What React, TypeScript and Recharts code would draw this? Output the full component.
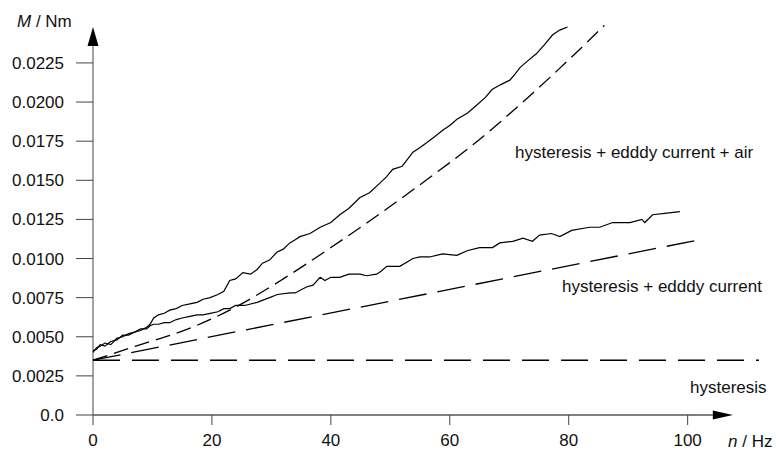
import { LineChart, Line, XAxis, YAxis, ReferenceLine } from 'recharts';

// measured torque, upper trace (hysteresis + eddy current + air)
const upperN = [0, 0.6, 1.2, 2, 3, 4, 5, 6, 7, 8, 9, 9.6, 10.2, 11, 12, 12.9, 14, 15, 16.3, 17.5, 18.5, 19.7, 21, 22, 23, 24, 25.2, 26.5, 27.6, 28.5, 29.7, 30.9, 32, 33.1, 34, 34.8, 36.5, 38.2, 40, 41.5, 43, 44.9, 46.5, 48.2, 49.3, 50.4, 52, 53.8, 55, 56.1, 57.5, 58.8, 60, 61.2, 63, 64.5, 66, 67.1, 68.5, 70.1, 71, 71.8, 73, 74.6, 76, 77.3, 78.5, 79.8];
const upperM = [0.004, 0.0043, 0.0044, 0.0046, 0.0045, 0.0049, 0.005, 0.0052, 0.0053, 0.0054, 0.0056, 0.0058, 0.0062, 0.0064, 0.0065, 0.0067, 0.0068, 0.007, 0.0071, 0.0072, 0.0074, 0.0075, 0.0077, 0.0079, 0.0086, 0.0087, 0.0091, 0.009, 0.0093, 0.0097, 0.0099, 0.0104, 0.0106, 0.011, 0.0112, 0.0114, 0.0116, 0.012, 0.0123, 0.0128, 0.0132, 0.0139, 0.0142, 0.0148, 0.0152, 0.0157, 0.0159, 0.0168, 0.0171, 0.0174, 0.0178, 0.0182, 0.0185, 0.0189, 0.0193, 0.0198, 0.0203, 0.0208, 0.0211, 0.0214, 0.0218, 0.0222, 0.0226, 0.0231, 0.0237, 0.0243, 0.0246, 0.0248];

// measured torque, lower trace (hysteresis + eddy current)
const lowerN = [0, 0.6, 1.2, 2, 3, 4, 5, 6, 7, 8, 9, 9.6, 10.2, 11, 12, 12.9, 14, 15, 16.3, 17.5, 18.5, 19.7, 21, 22, 23, 24, 25.5, 27.6, 29.7, 31, 33.1, 34, 35, 36, 37, 38.2, 39, 40, 41.5, 43, 44.9, 46, 47.7, 48.5, 49.4, 51.6, 53.8, 55, 56.6, 58.8, 61.2, 62.9, 65, 67.2, 68.4, 70.6, 72.3, 73.9, 75.1, 77.1, 78.5, 80.5, 83.5, 85.2, 87.4, 90.3, 92.3, 92.8, 94.1, 96.5, 98.7];
const lowerM = [0.0041, 0.0042, 0.0045, 0.0044, 0.0047, 0.0048, 0.0051, 0.0051, 0.0053, 0.0055, 0.0055, 0.0057, 0.0058, 0.0058, 0.0059, 0.0059, 0.0061, 0.0062, 0.0063, 0.0064, 0.0064, 0.0065, 0.0066, 0.0068, 0.0068, 0.007, 0.007, 0.0072, 0.0075, 0.0077, 0.0078, 0.0078, 0.008, 0.0082, 0.0083, 0.0088, 0.0086, 0.0088, 0.0088, 0.009, 0.009, 0.0089, 0.009, 0.0092, 0.0095, 0.0095, 0.01, 0.0101, 0.0101, 0.0103, 0.0102, 0.0105, 0.0107, 0.0107, 0.011, 0.0111, 0.0113, 0.0111, 0.0115, 0.0116, 0.0114, 0.0118, 0.012, 0.012, 0.0123, 0.0123, 0.0125, 0.0123, 0.0128, 0.0129, 0.013];

// model curves
const airN = [0, 8, 16, 24, 32, 40, 48, 56, 64, 72, 80, 86];
const airM = [0.0035, 0.0045, 0.0055, 0.0069, 0.0087, 0.0107, 0.0128, 0.015, 0.0173, 0.0199, 0.0227, 0.0249];
const eddyN = [0, 102];
const eddyM = [0.0035, 0.0112];
const hystN = [0, 112];
const hystM = [0.0035, 0.0035];

const xTicks = [0, 20, 40, 60, 80, 100];
const yTicks = [0, 0.0025, 0.005, 0.0075, 0.01, 0.0125, 0.015, 0.0175, 0.02, 0.0225];

const pts = (ns: number[], ms: number[]) => ns.map((n, i) => ({ n, m: ms[i] }));

const FONT = '"Liberation Sans", Arial, sans-serif';

function arrowShape(head: number, half: number) {
  return (p: any) => {
    const { x1, y1, x2, y2 } = p;
    const len = Math.hypot(x2 - x1, y2 - y1);
    const ux = (x2 - x1) / len;
    const uy = (y2 - y1) / len;
    const bx = x2 - ux * head;
    const by = y2 - uy * head;
    const tri = `${x2},${y2} ${bx - uy * half},${by + ux * half} ${bx + uy * half},${by - ux * half}`;
    return (
      <g>
        <line x1={x1} y1={y1} x2={bx} y2={by} stroke={p.stroke} strokeWidth={1.2} />
        <polygon points={tri} fill="#000" />
      </g>
    );
  };
}

export default function App() {
  return (
    <div style={{ position: 'absolute', left: 0, top: 0, width: 776, height: 450, background: '#fff' }}>
      <LineChart width={776} height={450} margin={{ top: 16, right: 17, bottom: 0, left: 0 }}>
        <XAxis
          type="number"
          dataKey="n"
          domain={[0, 112]}
          ticks={xTicks}
          axisLine={false}
          tickSize={10}
          tickMargin={9}
          height={35}
          tickLine={{ stroke: '#444' }}
          tick={{ fontSize: 17, fill: '#111', fontFamily: FONT }}
        />
        <YAxis
          type="number"
          domain={[0, 0.0255]}
          ticks={yTicks}
          width={93}
          axisLine={false}
          tickSize={17}
          tickMargin={12}
          tickLine={{ stroke: '#444' }}
          tick={{ fontSize: 17, fill: '#111', fontFamily: FONT }}
          tickFormatter={(v: number) => (v === 0 ? '0.0' : v.toFixed(4))}
        />
        <ReferenceLine
          segment={[{ x: 0, y: 0 }, { x: 107.6, y: 0 }]}
          stroke="#000"
          ifOverflow="visible"
          shape={arrowShape(20, 4.5)}
        />
        <ReferenceLine
          segment={[{ x: 0, y: 0 }, { x: 0, y: 0.0248 }]}
          stroke="#666"
          ifOverflow="visible"
          shape={arrowShape(19, 5.5)}
        />
        <Line data={pts(hystN, hystM)} dataKey="m" type="linear" stroke="#000" strokeWidth={1.3} strokeDasharray="27 12" dot={false} isAnimationActive={false} />
        <Line data={pts(eddyN, eddyM)} dataKey="m" type="linear" stroke="#000" strokeWidth={1.3} strokeDasharray="28 11" dot={false} isAnimationActive={false} />
        <Line data={pts(airN, airM)} dataKey="m" type="monotone" stroke="#000" strokeWidth={1.3} strokeDasharray="15 7" dot={false} isAnimationActive={false} />
        <Line data={pts(lowerN, lowerM)} dataKey="m" type="linear" stroke="#000" strokeWidth={1.2} dot={false} isAnimationActive={false} />
        <Line data={pts(upperN, upperM)} dataKey="m" type="linear" stroke="#000" strokeWidth={1.2} dot={false} isAnimationActive={false} />
      </LineChart>
      <svg width={776} height={450} style={{ position: 'absolute', left: 0, top: 0, pointerEvents: 'none' }}>
        <g fontFamily={FONT} fontSize={17} fill="#111">
          <text x={17} y={27}>
            <tspan fontStyle="italic">M</tspan> / Nm
          </text>
          <text x={728} y={447}>
            <tspan fontStyle="italic">n</tspan> / Hz
          </text>
          <text x={515} y={158}>hysteresis + edddy current + air</text>
          <text x={562} y={292}>hysteresis + edddy current</text>
          <text x={690} y={393}>hysteresis</text>
        </g>
      </svg>
    </div>
  );
}
